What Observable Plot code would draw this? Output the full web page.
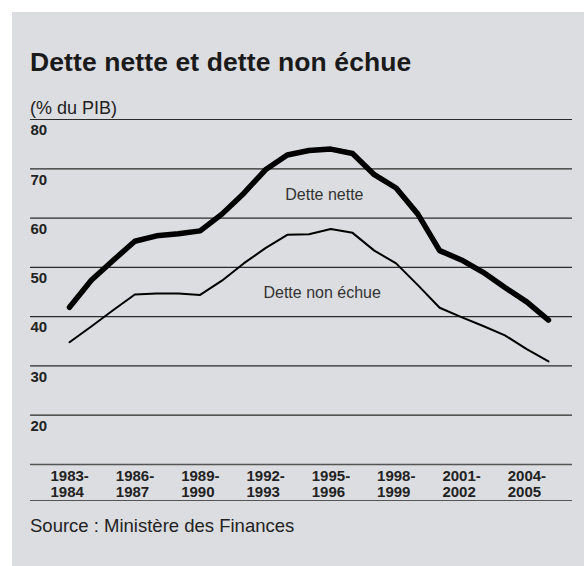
<!DOCTYPE html>
<html>
<head>
<meta charset="utf-8">
<script src="https://cdn.jsdelivr.net/npm/d3@7"></script>
<script src="https://cdn.jsdelivr.net/npm/@observablehq/plot@0.6"></script>
<style>
  body { margin: 0; background: #ffffff; font-family: "Liberation Sans", Arial, sans-serif; }
  .abs { position: absolute; white-space: nowrap; }
  #panel { position: absolute; left: 12px; top: 12px; width: 572px; height: 554px; background: #dcdde0; }
  #title { left: 30px; top: 48.5px; font-weight: bold; font-size: 26.5px; line-height: 26.5px; letter-spacing: 0.1px; color: #1a1a1a; }
  #subtitle { left: 30px; top: 98.5px; font-size: 18px; line-height: 18px; color: #222; }
  #chart { left: 12px; top: 100px; }
  #bottomline { left: 30px; top: 500px; width: 542px; height: 0; border-top: 1.6px solid #555; }
  #source { left: 30px; top: 517px; font-size: 18.5px; line-height: 18.5px; color: #222; }
</style>
</head>
<body>
<div id="panel"></div>
<div id="title" class="abs">Dette nette et dette non échue</div>
<div id="subtitle" class="abs">(% du PIB)</div>
<div id="chart" class="abs"></div>
<div id="bottomline" class="abs"></div>
<div id="source" class="abs">Source : Ministère des Finances</div>
<script>
// Periods (fiscal years)
const periods = [
  "1983-1984","1984-1985","1985-1986","1986-1987","1987-1988","1988-1989",
  "1989-1990","1990-1991","1991-1992","1992-1993","1993-1994","1994-1995",
  "1995-1996","1996-1997","1997-1998","1998-1999","1999-2000","2000-2001",
  "2001-2002","2002-2003","2003-2004","2004-2005","2005-2006"
];
// Series values (% du PIB)
const detteNette = [41.9, 47.4, 51.4, 55.3, 56.4, 56.8, 57.4, 60.8, 65.0, 69.8, 72.8, 73.7,
                    74.0, 73.1, 68.8, 66.1, 60.8, 53.4, 51.5, 49.0, 45.9, 43.0, 39.3];
const detteNonEchue = [34.8, 38.0, 41.3, 44.5, 44.7, 44.7, 44.4, 47.3, 50.8, 53.9, 56.6, 56.7,
                       57.8, 57.0, 53.4, 50.8, 46.4, 41.8, 39.9, 38.1, 36.2, 33.4, 30.9];
const seriesNames = ["Dette nette", "Dette non échue"];
// Tick labels
const yTicks = [20, 30, 40, 50, 60, 70, 80];
const xTickLabels = ["1983-1984","1986-1987","1989-1990","1992-1993",
                     "1995-1996","1998-1999","2001-2002","2004-2005"];

const netteData = periods.map((p, i) => ({idx: i, value: detteNette[i]}));
const nonEchueData = periods.map((p, i) => ({idx: i, value: detteNonEchue[i]}));
const annotations = [
  {idx: periods.indexOf("1993-1994"), value: 64.8, label: seriesNames[0]},
  {idx: periods.indexOf("1992-1993"), value: 44.8, label: seriesNames[1]}
];
const xTickIdx = xTickLabels.map(l => periods.indexOf(l));

const chart = Plot.plot({
  width: 572,
  height: 402,
  marginTop: 19,
  marginBottom: 38,
  marginLeft: 18,
  marginRight: 12,
  style: {background: "transparent", fontFamily: "'Liberation Sans', Arial, sans-serif", overflow: "visible", fontSize: "15px"},
  x: {type: "linear", domain: [0, periods.length - 1], insetLeft: 39, insetRight: 24},
  y: {domain: [10, 80]},
  marks: [
    Plot.ruleY(yTicks, {stroke: "#2a2a2a", strokeWidth: 1.2}),
    Plot.ruleY([10], {stroke: "#555", strokeWidth: 1.6}),
    Plot.axisY(yTicks, {
      tickSize: 0, tickPadding: 0, textAnchor: "start", dy: 11,
      fontSize: 15, fontWeight: "bold", fill: "#222", label: null
    }),
    Plot.axisX(xTickIdx, {
      tickSize: 0, tickPadding: 5.5, textAnchor: "start", dx: -19,
      tickFormat: i => periods[i].replace("-", "-\n"), lineHeight: 1.07,
      fontSize: 15, fontWeight: "bold", fill: "#222", label: null
    }),
    Plot.line(nonEchueData, {x: "idx", y: "value", stroke: "#000", strokeWidth: 2}),
    Plot.line(netteData, {x: "idx", y: "value", stroke: "#000", strokeWidth: 5.5}),
    Plot.text(annotations, {
      x: "idx", y: "value", text: "label", textAnchor: "start", dx: -2,
      fontSize: 16, fill: "#333"
    })
  ]
});
document.getElementById("chart").appendChild(chart);
</script>
</body>
</html>
